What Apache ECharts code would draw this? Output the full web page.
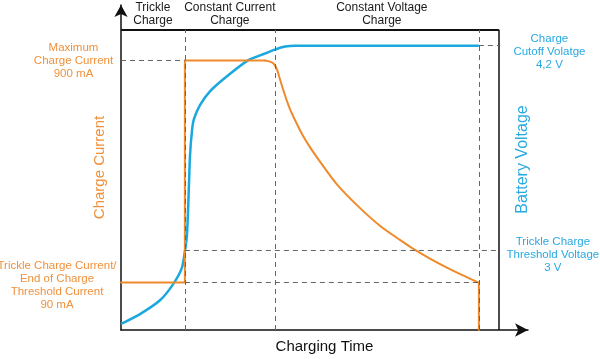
<!DOCTYPE html>
<html>
<head>
<meta charset="utf-8">
<script src="https://cdn.jsdelivr.net/npm/echarts@6/dist/echarts.min.js"></script>
<style>html,body{margin:0;padding:0;background:#fff;}#c{width:600px;height:359px;}</style>
</head>
<body>
<div id="c"></div>
<script>
// ---- data (arbitrary normalised units: plot box spans 0..100 on both axes) ----
const X_MAX = 107.7;          // axis extends past the box to the arrow head
const Y_MAX = 108.25;
const BOX = 100;
const phaseEdges = [0, 16.9, 40.7, 94.7];
const phaseNames = ['Trickle\nCharge', 'Constant Current\nCharge', 'Constant Voltage\nCharge'];
const I_MAX = 89.8;           // 900 mA
const I_TRICKLE = 15.8;       // 90 mA
const V_CUTOFF = 94.7;        // 4,2 V
const V_THRESH = 26.7;        // 3 V

// charge current: trickle + constant-current step, constant-voltage decay, end-of-charge drop
const currentStepTime = [0, 16.9, 16.9, 38.1];
const currentStepValues = [15.8, 15.8, 89.8, 89.8];
const currentDecayTime = [38.1, 39.42, 40.48, 41.27, 42.06, 43.39, 44.71, 46.56, 48.15, 50.26, 52.65, 57.14, 62.43, 68.52, 73.81, 77.25, 81.75, 86.24, 90.48, 94.7];
const currentDecayValues = [89.8, 89.4, 88.6, 86.8, 83.5, 78.2, 73.6, 68.6, 64.7, 60.4, 56.1, 48.5, 41.6, 34.7, 30.0, 27.1, 23.8, 20.8, 18.2, 15.8];
const currentDropTime = [94.7, 94.7];
const currentDropValues = [15.8, 0];

// battery voltage
const voltageTime = [0, 5.03, 10.32, 13.76, 16.14, 16.93, 17.46, 17.86, 18.25, 18.78, 19.31, 20.9, 23.54, 28.04, 33.6, 37.3, 40.74, 43.4, 46.03, 94.7];
const voltageValues = [2.0, 5.3, 9.9, 15.2, 20.8, 26.4, 31.7, 43.9, 57.8, 66.3, 70.3, 74.9, 79.5, 84.5, 89.8, 91.7, 93.4, 94.4, 94.7, 94.7];

const ORANGE = '#EF8A2B';
const ORANGE_TXT = '#F0913C';
const BLUE = '#1BA8DE';
const BLUE_TXT = '#27A9E1';
const FONT = 'Liberation Sans, Arial, Helvetica, sans-serif';

const zip = (a, b) => a.map((x, i) => [x, b[i]]);

const chart = echarts.init(document.getElementById('c'), null, {renderer: 'canvas'});

const dashed = {color: '#666', type: [5, 4], width: 1};
const orangeLine = {color: ORANGE, width: 2, join: 'round', cap: 'round'};
const option = {
  animation: false,
  grid: {left: 121, right: 72, top: 5, bottom: 26},
  xAxis: {
    type: 'value', min: 0, max: X_MAX,
    axisLine: {show: true, symbol: ['none', 'arrow'], symbolSize: [10, 13], lineStyle: {color: '#111', width: 1.5}},
    axisTick: {show: false}, axisLabel: {show: false}, splitLine: {show: false},
    name: 'Charging Time', nameLocation: 'middle', nameGap: 9,
    nameTextStyle: {fontSize: 15, color: '#111', fontFamily: FONT}
  },
  yAxis: [{
    type: 'value', min: 0, max: Y_MAX,
    axisLine: {show: true, symbol: ['none', 'arrow'], symbolSize: [10, 12], lineStyle: {color: '#111', width: 1.5}},
    axisTick: {show: false}, axisLabel: {show: false}, splitLine: {show: false},
    name: 'Charge Current', nameLocation: 'middle', nameGap: 14, nameRotate: 90,
    nameTextStyle: {fontSize: 15, color: ORANGE_TXT, fontFamily: FONT}
  }, {
    type: 'value', min: 0, max: Y_MAX, position: 'right', offset: -29,
    axisLine: {show: false}, axisTick: {show: false}, axisLabel: {show: false}, splitLine: {show: false},
    name: 'Battery Voltage', nameLocation: 'middle', nameGap: 16, nameRotate: 90,
    nameTextStyle: {fontSize: 16, color: BLUE_TXT, fontFamily: FONT, padding: [0, 0, 0, 16]}
  }],
  series: [{
    // frame, guide lines and phase labels
    type: 'line', data: [], silent: true, z: 1,
    markLine: {
      silent: true, symbol: 'none', label: {show: false},
      data: [
        [{coord: [0, BOX], lineStyle: {color: '#111', width: 2, type: 'solid'}}, {coord: [BOX, BOX]}],
        [{coord: [BOX, 0], lineStyle: {color: '#111', width: 1.5, type: 'solid'}}, {coord: [BOX, BOX]}],
        [{coord: [phaseEdges[1], 0], lineStyle: dashed}, {coord: [phaseEdges[1], BOX]}],
        [{coord: [phaseEdges[2], 0], lineStyle: dashed}, {coord: [phaseEdges[2], BOX]}],
        [{coord: [phaseEdges[3], 0], lineStyle: dashed}, {coord: [phaseEdges[3], BOX]}],
        [{coord: [0, I_MAX], lineStyle: dashed}, {coord: [phaseEdges[1], I_MAX]}],
        [{coord: [phaseEdges[1], I_TRICKLE], lineStyle: dashed}, {coord: [phaseEdges[3], I_TRICKLE]}],
        [{coord: [phaseEdges[1], V_THRESH], lineStyle: dashed}, {coord: [BOX, V_THRESH]}],
        [{coord: [phaseEdges[3], V_CUTOFF], lineStyle: dashed}, {coord: [BOX, V_CUTOFF]}]
      ]
    },
    markArea: {
      silent: true,
      itemStyle: {color: 'rgba(0,0,0,0)'},
      label: {show: true, position: 'top', distance: 3, color: '#1a1a1a', fontSize: 12, lineHeight: 13, fontFamily: FONT, align: 'center'},
      data: phaseNames.map((n, i) => [
        {name: n, xAxis: phaseEdges[i], yAxis: BOX, label: i === 2 ? {offset: [5, 0]} : {}},
        {xAxis: phaseEdges[i + 1], yAxis: BOX}
      ])
    }
  }, {
    name: 'Battery Voltage', type: 'line',
    data: zip(voltageTime, voltageValues), showSymbol: false, smooth: 0.2,
    lineStyle: {color: BLUE, width: 2.5}, z: 3
  }, {
    name: 'Charge Current', type: 'line',
    data: zip(currentStepTime, currentStepValues), showSymbol: false, smooth: false,
    lineStyle: orangeLine, z: 4
  }, {
    name: 'Charge Current', type: 'line',
    data: zip(currentDecayTime, currentDecayValues), showSymbol: false, smooth: 0.3,
    lineStyle: orangeLine, z: 4
  }, {
    name: 'Charge Current', type: 'line',
    data: zip(currentDropTime, currentDropValues), showSymbol: false, smooth: false,
    lineStyle: orangeLine, z: 4
  }]
};
chart.setOption(option);

function px(v) { return chart.convertToPixel({gridIndex: 0}, v); }
const txt = (x, y, text, color) => ({
  type: 'text', x: x, y: y, silent: true,
  style: {text: text, fill: color, font: '11.5px ' + FONT, align: 'center', verticalAlign: 'middle', lineHeight: 13}
});
const pMax = px([0, I_MAX]);
const pTr = px([0, I_TRICKLE]);
const pCut = px([BOX, V_CUTOFF]);
const pTh = px([BOX, V_THRESH]);
chart.setOption({
  graphic: [
    txt(pMax[0] - 47.5, pMax[1], 'Maximum\nCharge Current\n900 mA', ORANGE_TXT),
    txt(pTr[0] - 64, pTr[1] + 2.5, 'Trickle Charge Current/\nEnd of Charge\nThreshold Current\n90 mA', ORANGE_TXT),
    txt(pCut[0] + 50.5, pCut[1] + 6, 'Charge\nCutoff Volatge\n4,2 V', BLUE_TXT),
    txt(pTh[0] + 54, pTh[1] + 5, 'Trickle Charge\nThreshold Voltage\n3 V', BLUE_TXT)
  ]
});
</script>
</body>
</html>
